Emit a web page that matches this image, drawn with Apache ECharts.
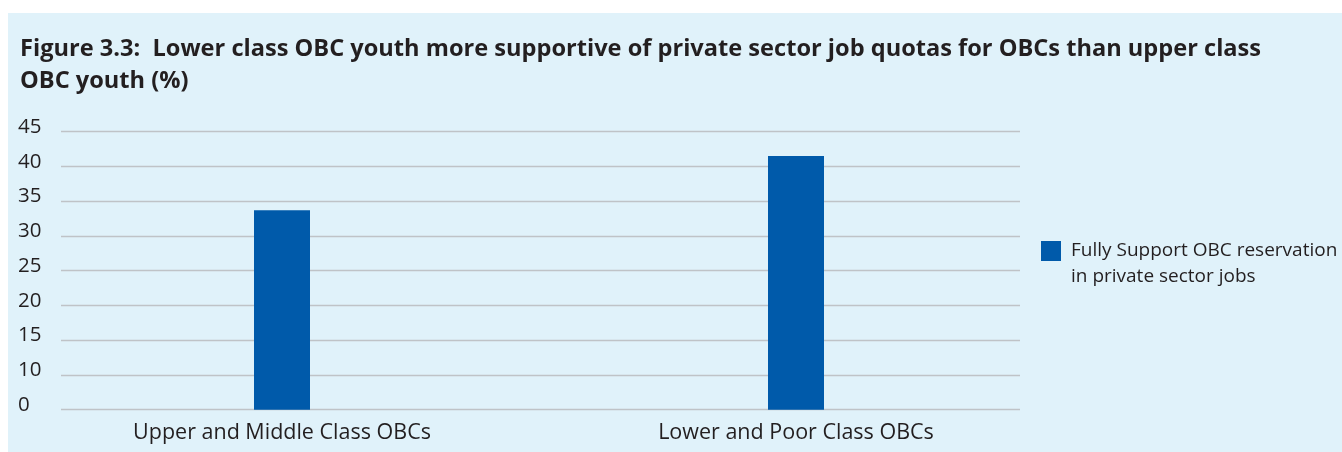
<!DOCTYPE html>
<html>
<head>
<meta charset="utf-8">
<script src="https://cdn.jsdelivr.net/npm/echarts@6/dist/echarts.min.js"></script>
<style>
  html, body { margin: 0; padding: 0; background: #ffffff; }
  #panel { position: absolute; left: 8px; top: 13px; width: 1334px; height: 439px; background: #E0F2FA; }
  #chart { position: absolute; left: 0; top: 0; width: 1342px; height: 452px; }
</style>
</head>
<body>
<div id="panel"></div>
<div id="chart"></div>
<script>
// Chart content
const titleLines = [
  'Figure 3.3:  Lower class OBC youth more supportive of private sector job quotas for OBCs than upper class',
  'OBC youth (%)'
];
const categories = ['Upper and Middle Class OBCs', 'Lower and Poor Class OBCs'];
const seriesName = 'Fully Support OBC reservation\nin private sector jobs';
const fullySupport = [33.7, 41.5];

// Value scale as printed on the axis (bottom line carries the "0" label)
const yTickValues = [5, 10, 15, 20, 25, 30, 35, 40, 45];
const yTickLabels = ['0', '10', '15', '20', '25', '30', '35', '40', '45'];

const FONT = '"Open Sans", "Noto Sans", sans-serif';
const TEXT = '#231F20';

const chart = echarts.init(document.getElementById('chart'), null, { renderer: 'canvas' });

const yMin = yTickValues[0];
const yMax = yTickValues[yTickValues.length - 1];
const yStep = yTickValues[1] - yTickValues[0];

chart.setOption({
  backgroundColor: 'transparent',
  animation: false,
  title: {
    text: titleLines.join('\n'),
    left: 20,
    top: 33,
    padding: 0,
    textStyle: {
      fontFamily: FONT,
      fontWeight: 'bold',
      fontSize: 23.6,
      lineHeight: 32,
      color: TEXT
    }
  },
  legend: {
    data: [seriesName],
    left: 1041,
    top: 209,
    padding: 0,
    orient: 'vertical',
    icon: 'rect',
    itemWidth: 20,
    itemHeight: 20,
    selectedMode: false,
    // first text line sits level with the colour swatch
    formatter: function (name) { return ' \n' + name; },
    textStyle: {
      fontFamily: FONT,
      fontSize: 19,
      lineHeight: 26,
      color: TEXT,
      padding: [6, 0, 0, 5]
    }
  },
  grid: [
    // grid carrying the horizontal rules and value labels
    { left: 61, right: 322, top: 131.7, bottom: 42.3, containLabel: false },
    // grid carrying the bars and category labels
    { left: 25, right: 289, top: 131.7, bottom: 42.3, containLabel: false }
  ],
  xAxis: [
    { type: 'category', gridIndex: 0, data: categories, show: false },
    {
      type: 'category',
      gridIndex: 1,
      data: categories,
      axisLine: { show: false },
      axisTick: { show: false },
      axisLabel: {
        margin: 12,
        fontFamily: FONT,
        fontSize: 21.5,
        color: TEXT,
        interval: 0
      }
    }
  ],
  yAxis: [
    {
      type: 'value',
      gridIndex: 0,
      min: yMin,
      max: yMax,
      interval: yStep,
      axisLine: { show: false },
      axisTick: { show: false },
      splitLine: { show: true, lineStyle: { color: '#BFC3C7', width: 1.3 } },
      axisLabel: {
        align: 'left',
        margin: 43,
        fontFamily: FONT,
        fontSize: 20.5,
        color: TEXT,
        verticalAlign: 'bottom',
        lineHeight: 9.5,
        formatter: function (v) {
          const i = yTickValues.indexOf(v);
          return i >= 0 ? yTickLabels[i] : '';
        }
      }
    },
    {
      type: 'value',
      gridIndex: 1,
      min: yMin,
      max: yMax,
      interval: yStep,
      show: false,
      splitLine: { show: false }
    }
  ],
  series: [
    {
      name: seriesName,
      type: 'bar',
      xAxisIndex: 1,
      yAxisIndex: 1,
      data: fullySupport,
      barWidth: 56,
      itemStyle: { color: '#005AAA' }
    }
  ]
});
</script>
</body>
</html>
